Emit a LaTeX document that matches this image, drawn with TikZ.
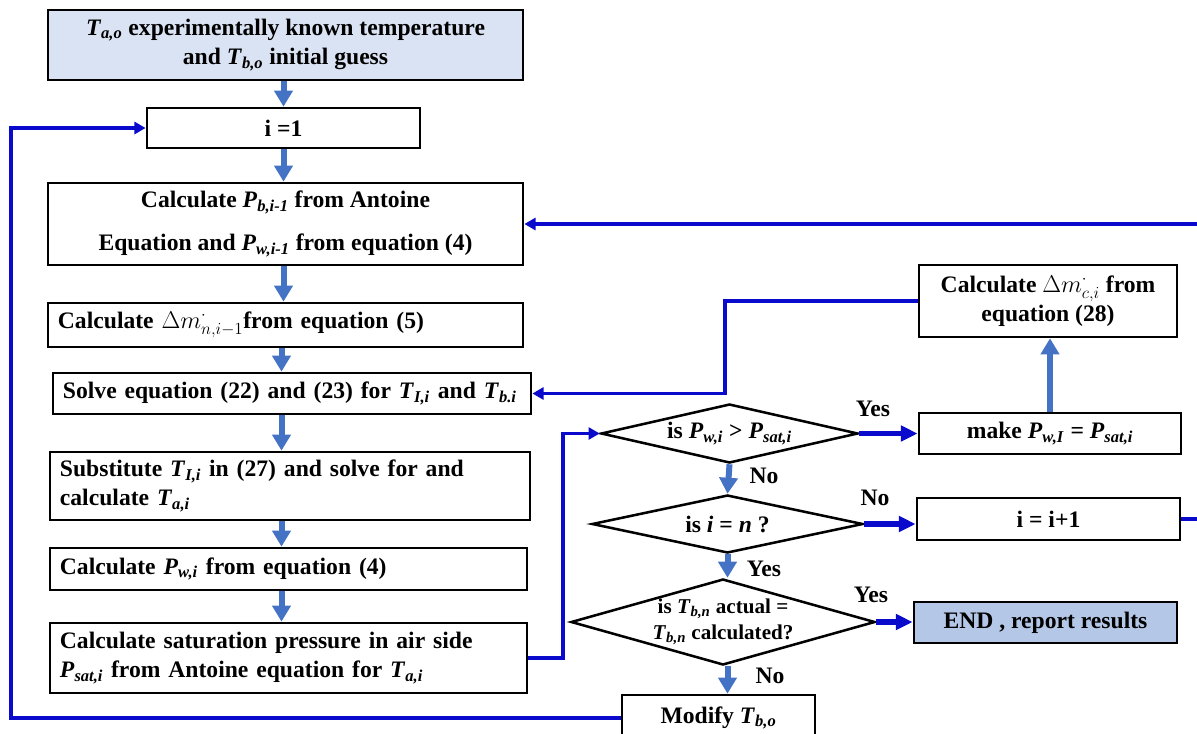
\documentclass[tikz,border=0pt]{standalone}
\usepackage{amsmath}
\usepackage{fontspec}
\setmainfont{Liberation Serif}
\usepackage{tikz}
\usepackage{xcolor}
\usetikzlibrary{arrows.meta, positioning, shapes.geometric, calc}

\definecolor{flowblue}{HTML}{4472C4}
\definecolor{linkblue}{HTML}{0A0ACC}
\definecolor{startfill}{HTML}{DAE3F3}
\definecolor{endfill}{HTML}{B4C7E7}

% variable with italic subscript, e.g. T_{a,o}
\newcommand{\vsub}[2]{\textit{#1}\textsubscript{\textit{#2}}}

\begin{document}
\begin{tikzpicture}[
    x=0.025cm, y=-0.025cm,
    % Box styles
    stepbox/.style={draw, line width=1.9pt, inner sep=0pt, align=center,
                    font=\fontsize{16.8}{21}\selectfont\bfseries},
    leftbox/.style={stepbox, align=left, inner xsep=0.25cm},
    decision/.style={diamond, draw, line width=1.8pt, inner sep=0pt},
    cond_text/.style={font=\fontsize{16.8}{21}\selectfont\bfseries, align=center, inner sep=0pt},
    branch_label/.style={font=\fontsize{16.8}{21}\selectfont\bfseries, inner sep=0pt},
    % Connector styles
    flow_arrow/.style={draw=flowblue, line width=0.15cm, -{Triangle[width=0.45cm, length=0.4cm]}},
    branch_arrow/.style={draw=linkblue, line width=0.13cm, -{Triangle[width=0.38cm, length=0.42cm]}},
    back_link/.style={draw=linkblue, line width=0.085cm, -{Triangle[width=0.3cm, length=0.28cm]}}
]
\clip (0,0) rectangle (1197,733);

% Main column on the left
\node[stepbox, fill=startfill, minimum width=11.875cm, minimum height=1.75cm] (ta_guess) at (285.5,45)
    {\vsub{T}{a,o} experimentally known temperature\\ and \vsub{T}{b,o} initial guess};
\node[stepbox, minimum width=6.825cm, minimum height=1cm] (i_init) at (283.5,128) {i =1};
\node[stepbox, minimum width=11.875cm, minimum height=2.05cm] (p_calc) at (285.5,224)
    {Calculate \vsub{P}{b,i-1} from Antoine\\[0.33cm] Equation and \vsub{P}{w,i-1} from equation (4)};
\node[leftbox, text width=11.375cm, minimum height=1.1cm] (dm_calc) at (285.5,325)
    {Calculate $\Delta m^{\cdot}_{n,i-1}$from equation (5)};
\node[leftbox, text width=11.45cm, minimum height=1.025cm] (solve_t) at (292,393.5)
    {Solve equation (22) and (23) for \vsub{T}{I,i} and \vsub{T}{b.i}};
\node[leftbox, text width=11.5cm, minimum height=1.7cm] (subst_t) at (290,486)
    {Substitute \vsub{T}{I,i} in (27) and solve for and\\ calculate \vsub{T}{a,i}};
\node[leftbox, text width=11.425cm, minimum height=1.05cm] (pw_calc) at (288.5,569)
    {Calculate \vsub{P}{w,i} from equation (4)};
\node[leftbox, text width=11.425cm, minimum height=1.75cm] (psat_calc) at (288.5,658)
    {Calculate saturation pressure in air side\\ \vsub{P}{sat,i} from Antoine equation for \vsub{T}{a,i}};

% Decisions
\node[decision, minimum width=6.425cm, minimum height=1.475cm] (cmp_p) at (729.5,433.5) {};
\node[cond_text] at (cmp_p.center) {is \vsub{P}{w,i} > \vsub{P}{sat,i}};
\node[decision, minimum width=6.775cm, minimum height=1.45cm] (cmp_i) at (727.5,524) {};
\node[cond_text] at (cmp_i.center) {is \textit{i} = \textit{n} ?};
\node[decision, minimum width=7.6cm, minimum height=2.15cm] (cmp_t) at (723,622) {};
\node[cond_text, font=\fontsize{15}{18.5}\selectfont\bfseries] at (cmp_t.center)
    {is \vsub{T}{b,n} actual =\\ \vsub{T}{b,n} calculated?};
\node[stepbox, minimum width=4.825cm, minimum height=1.15cm] (modify_t) at (718.5,718) {Modify \vsub{T}{b,o}};

% Right column
\node[stepbox, minimum width=6.45cm, minimum height=1.8cm] (dmc_calc) at (1048,301)
    {Calculate $\Delta m^{\cdot}_{c,i}$ from\\ equation (28)};
\node[stepbox, minimum width=6.55cm, minimum height=1.025cm] (make_p) at (1050,433.5)
    {make \vsub{P}{w,I} = \vsub{P}{sat,i}};
\node[stepbox, minimum width=6.575cm, minimum height=1.05cm] (i_next) at (1048.5,519) {i = i+1};
\node[stepbox, fill=endfill, minimum width=6.575cm, minimum height=1.025cm] (end_box) at (1045.5,622.5)
    {END , report results};

% Yes / No labels
\node[branch_label] (yes_p) at (873,409) {Yes};
\node[branch_label] (no_p) at (764,476) {No};
\node[branch_label] (no_i) at (875,498) {No};
\node[branch_label] (yes_i) at (764,569) {Yes};
\node[branch_label] (yes_t) at (871,595) {Yes};
\node[branch_label] (no_t) at (770,676) {No};

% Rails for the feedback lines
\coordinate (left_rail) at (11,0);
\coordinate (cmp_rail) at (563,0);
\coordinate (mid_rail) at (725,0);
\coordinate (right_rail) at (1215,0);

% Main flow
\draw[flow_arrow] (i_init.north |- ta_guess.south) -- (i_init.north);
\draw[flow_arrow] (i_init.south) -- (p_calc.north -| i_init.south);
\draw[flow_arrow] (p_calc.south -| i_init.south) -- (dm_calc.north -| i_init.south);
\foreach \a/\b in {dm_calc/solve_t, solve_t/subst_t, subst_t/pw_calc, pw_calc/psat_calc} {
    \draw[flow_arrow] ([xshift=-0.05cm]\a.south -| i_init.south) -- ([xshift=-0.05cm]\b.north -| i_init.south);
}
\draw[flow_arrow] (cmp_p.south) -- (cmp_i.north);
\draw[flow_arrow] (cmp_i.south) -- (cmp_i.south |- cmp_t.north);
\draw[flow_arrow] (cmp_t.south -| cmp_i.south) -- (modify_t.north -| cmp_i.south);
\draw[flow_arrow] (make_p.north) -- (make_p.north |- dmc_calc.south);

% Branches
\draw[branch_arrow] (cmp_p.east) -- (make_p.west |- cmp_p.east);
\draw[branch_arrow] (cmp_i.east) -- (i_next.west |- cmp_i.east);
\draw[branch_arrow] (cmp_t.east) -- (end_box.west |- cmp_t.east);

% Feedback lines
\draw[back_link] (psat_calc.east) -- (psat_calc.east -| cmp_rail) |- (cmp_p.west);
\draw[back_link] (dmc_calc.west) -- (dmc_calc.west -| mid_rail) |- (solve_t.east);
\draw[back_link] (modify_t.west) -- (modify_t.west -| left_rail) |- (i_init.west);
\draw[back_link] (i_next.east) -- (i_next.east -| right_rail) |- (p_calc.east);

\end{tikzpicture}
\end{document}
